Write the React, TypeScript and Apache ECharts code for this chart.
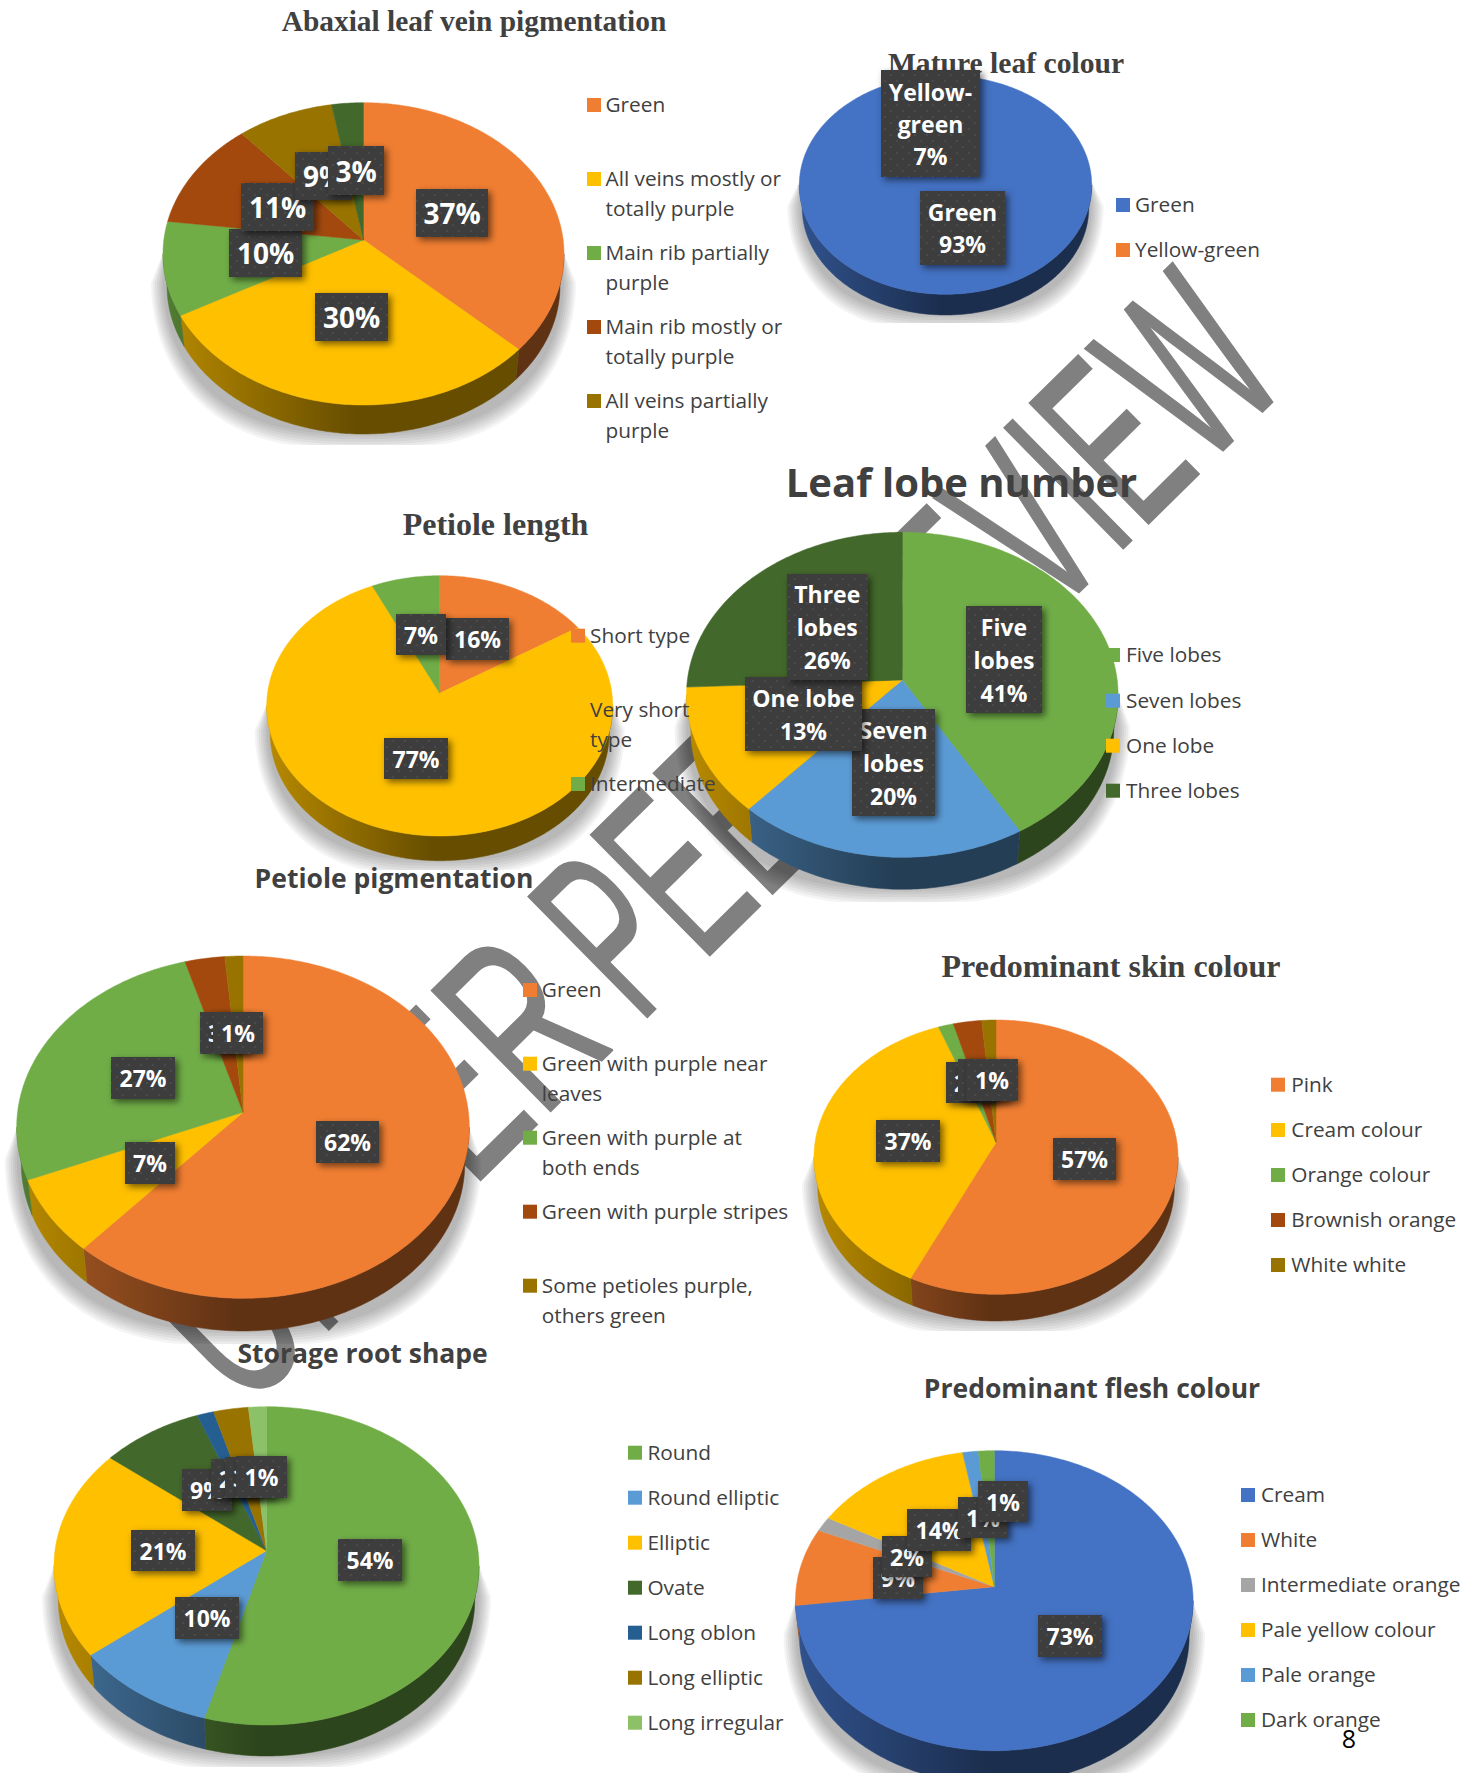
import React, { useEffect, useRef } from "react";
import * as echarts from "echarts";

// ---------- data ----------
const abaxialCategories = ["Green", "All veins mostly or\ntotally purple", "Main rib partially\npurple", "Main rib mostly or\ntotally purple", "All veins partially\npurple"];
const abaxialValues = [37, 30, 10, 11.7, 8.5, 2.8];
const abaxialLabels = ["37%", "30%", "10%", "11%", "9%", "3%"];

const matureCategories = ["Green", "Yellow-green"];
const matureValues = [93, 7];
const matureLabels = ["Green\n93%", "Yellow-\ngreen\n7%"];

const petioleLengthCategories = ["Short type", "Very short\ntype", "Intermediate"];
const petioleLengthValues = [16, 77, 7];
const petioleLengthLabels = ["16%", "77%", "7%"];

const lobeCategories = ["Five lobes", "Seven lobes", "One lobe", "Three lobes"];
const lobeValues = [41.6, 20, 12.7, 25.7];
const lobeLabels = ["Five\nlobes\n41%", "Seven\nlobes\n20%", "One lobe\n13%", "Three\nlobes\n26%"];

const pigmentCategories = ["Green", "Green with purple near\nleaves", "Green with purple at\nboth ends", "Green with purple stripes", "Some petioles purple,\nothers green"];
const pigmentValues = [61.5, 7.2, 26.8, 3.1, 1.4];
const pigmentLabels = ["62%", "7%", "27%", "3%", "1%"];

const skinCategories = ["Pink", "Cream colour", "Orange colour", "Brownish orange", "White white"];
const skinValues = [57, 37.3, 1.5, 2.8, 1.4];
const skinLabels = ["57%", "37%", "2%", "3%", "1%"];

const rootCategories = ["Round", "Round elliptic", "Elliptic", "Ovate", "Long oblon", "Long elliptic", "Long irregular"];
const rootValues = [54.3, 10, 21.4, 8.5, 1.4, 2.9, 1.5];
const rootLabels = ["54%", "10%", "21%", "9%", "2%", "3%", "1%"];

const fleshCategories = ["Cream", "White", "Intermediate orange", "Pale yellow colour", "Pale orange", "Dark orange"];
const fleshValues = [73, 8.4, 1.6, 14.2, 1.4, 1.4];
const fleshLabels = ["73%", "9%", "2%", "14%", "1%", "1%"];

// ---------- styles ----------
const ORANGE = "#F07E32";
const YELLOW = "#FFC000";
const GREEN = "#70AD47";
const BROWN = "#A3490E";
const GOLD = "#997300";
const DKGREEN = "#43682B";
const BLUE = "#4472C4";
const SKY = "#5B9BD5";
const GRAY = "#A5A5A5";
const NAVY = "#255E91";
const LIME = "#8CC168";

const SANS = "'Open Sans', sans-serif";
const SERIF = "'Liberation Serif', serif";
const TEXT = "#404040";

const dotSvg =
  "<svg xmlns='http://www.w3.org/2000/svg' width='12' height='12'><rect width='12' height='12' fill='#3e3e3e'/><circle cx='3' cy='3' r='1.1' fill='#4c4c4c'/><circle cx='9' cy='9' r='1.1' fill='#4c4c4c'/></svg>";
const dotPattern = {
  image: "data:image/svg+xml;charset=utf-8," + encodeURIComponent(dotSvg),
  repeat: "repeat",
  imageWidth: 12,
  imageHeight: 12,
};

interface Pie {
  title: string; titleX: number; titleY: number; titleSize: number; titleFont: string;
  cx: number; rx: number; top: number; pivot: number; faceBottom: number; rimBottom: number; cutoff: number;
  values: number[]; colors: string[]; labels: string[]; boxes: number[][]; labelSize: number; labelLine: number;
  categories: string[]; legendColors: string[]; legendBox: number; legendText: number; legendY: number[];
}

const pies: Pie[] = [
  {
    title: "Abaxial leaf vein pigmentation", titleX: 474, titleY: 22, titleSize: 29.4, titleFont: SERIF,
    cx: 363.5, rx: 200.5, top: 102.7, pivot: 240, faceBottom: 405, rimBottom: 434, cutoff: 445,
    values: abaxialValues, colors: [ORANGE, YELLOW, GREEN, BROWN, GOLD, DKGREEN], labels: abaxialLabels,
    boxes: [[416, 488, 189, 237], [315, 388, 293, 341], [229, 302, 229, 277], [241, 314, 183, 231], [295, 352, 152, 200], [328, 384, 146, 195]],
    labelSize: 28, labelLine: 34,
    categories: abaxialCategories, legendColors: [ORANGE, YELLOW, GREEN, BROWN, GOLD], legendBox: 587, legendText: 605.5, legendY: [105, 179, 253, 327, 401],
  },
  {
    title: "Mature leaf colour", titleX: 1006, titleY: 63, titleSize: 29.6, titleFont: SERIF,
    cx: 945.5, rx: 146.2, top: 75.7, pivot: 176, faceBottom: 294.3, rimBottom: 315, cutoff: 323,
    values: matureValues, colors: [BLUE, BLUE], labels: matureLabels,
    boxes: [[920, 1005, 191, 265], [881, 980, 70, 177]],
    labelSize: 23, labelLine: 32,
    categories: matureCategories, legendColors: [BLUE, ORANGE], legendBox: 1116, legendText: 1135, legendY: [205, 250],
  },
  {
    title: "Petiole length", titleX: 495.5, titleY: 525, titleSize: 32, titleFont: SERIF,
    cx: 439.7, rx: 173, top: 575.7, pivot: 693.3, faceBottom: 836, rimBottom: 860.7, cutoff: 870,
    values: petioleLengthValues, colors: [ORANGE, YELLOW, GREEN], labels: petioleLengthLabels,
    boxes: [[446, 509, 618, 660], [384, 448, 738, 779], [396, 446, 614, 655]],
    labelSize: 23, labelLine: 30,
    categories: petioleLengthCategories, legendColors: [ORANGE, YELLOW, GREEN], legendBox: 571, legendText: 590, legendY: [635.7, 710, 784],
  },
  {
    title: "Leaf lobe number", titleX: 961.5, titleY: 483, titleSize: 40, titleFont: SANS,
    cx: 902.3, rx: 215.8, top: 532.3, pivot: 680, faceBottom: 857.3, rimBottom: 889.3, cutoff: 902,
    values: lobeValues, colors: [GREEN, SKY, YELLOW, DKGREEN], labels: lobeLabels,
    boxes: [[966, 1042, 606, 713], [852, 935, 709, 816], [745, 862, 677, 751], [787, 867.5, 574, 680]],
    labelSize: 23, labelLine: 33,
    categories: lobeCategories, legendColors: [GREEN, SKY, YELLOW, DKGREEN], legendBox: 1106, legendText: 1126, legendY: [655, 700.7, 745.7, 790.7],
  },
  {
    title: "Petiole pigmentation", titleX: 394, titleY: 878, titleSize: 26.5, titleFont: SANS,
    cx: 243, rx: 226.3, top: 956, pivot: 1112.3, faceBottom: 1298.3, rimBottom: 1331, cutoff: 1344,
    values: pigmentValues, colors: [ORANGE, YELLOW, GREEN, BROWN, GOLD], labels: pigmentLabels,
    boxes: [[316, 379, 1121, 1163], [125, 175, 1142, 1184], [111, 175, 1057, 1099], [200, 250, 1012, 1054], [213, 263, 1012, 1054]],
    labelSize: 23, labelLine: 30,
    categories: pigmentCategories, legendColors: [ORANGE, YELLOW, GREEN, BROWN, GOLD], legendBox: 523, legendText: 541.8, legendY: [990, 1063.7, 1137.7, 1211.7, 1285.7],
  },
  {
    title: "Predominant skin colour", titleX: 1111, titleY: 966.7, titleSize: 32, titleFont: SERIF,
    cx: 996, rx: 182, top: 1020, pivot: 1142.3, faceBottom: 1294.3, rimBottom: 1321, cutoff: 1331,
    values: skinValues, colors: [ORANGE, YELLOW, GREEN, BROWN, GOLD], labels: skinLabels,
    boxes: [[1053, 1116, 1138, 1180], [876, 940, 1120, 1162], [946, 996, 1062, 1103], [958, 1008, 1059, 1101], [966, 1018, 1059, 1101]],
    labelSize: 23, labelLine: 30,
    categories: skinCategories, legendColors: [ORANGE, YELLOW, GREEN, BROWN, GOLD], legendBox: 1271, legendText: 1291.3, legendY: [1084.7, 1130, 1175, 1220, 1265],
  },
  {
    title: "Storage root shape", titleX: 362.6, titleY: 1352.7, titleSize: 26.5, titleFont: SANS,
    cx: 266.5, rx: 212.5, top: 1406.7, pivot: 1550.7, faceBottom: 1725, rimBottom: 1756, cutoff: 1767,
    values: rootValues, colors: [GREEN, SKY, YELLOW, DKGREEN, NAVY, GOLD, LIME], labels: rootLabels,
    boxes: [[338, 402, 1539, 1581], [175, 239, 1597, 1639], [131, 195, 1530, 1571], [182, 232, 1469, 1511], [211, 261, 1459, 1498], [225, 275, 1457, 1498], [236, 287, 1456, 1498]],
    labelSize: 23, labelLine: 30,
    categories: rootCategories, legendColors: [GREEN, SKY, YELLOW, DKGREEN, NAVY, GOLD, LIME], legendBox: 628, legendText: 647.4, legendY: [1452.7, 1497.7, 1542.7, 1587.7, 1632.7, 1677.7, 1722.7],
  },
  {
    title: "Predominant flesh colour", titleX: 1092, titleY: 1388, titleSize: 26.5, titleFont: SANS,
    cx: 994.3, rx: 198.8, top: 1450.7, pivot: 1586.7, faceBottom: 1750.7, rimBottom: 1784, cutoff: 1796,
    values: fleshValues, colors: [BLUE, ORANGE, GRAY, YELLOW, SKY, GREEN], labels: fleshLabels,
    boxes: [[1038, 1102, 1615, 1657], [873, 923, 1557, 1599], [882, 932, 1536, 1577], [907, 971, 1509, 1551], [958, 1008, 1497, 1538], [978, 1028, 1481, 1522]],
    labelSize: 23, labelLine: 30,
    categories: fleshCategories, legendColors: [BLUE, ORANGE, GRAY, YELLOW, SKY, GREEN], legendBox: 1241, legendText: 1261, legendY: [1495, 1540, 1585, 1630, 1675, 1720],
  },
];

function shade(hex: string, f: number) {
  const n = parseInt(hex.slice(1), 16);
  const r = Math.round(((n >> 16) & 255) * f);
  const g = Math.round(((n >> 8) & 255) * f);
  const b = Math.round((n & 255) * f);
  return `rgb(${r},${g},${b})`;
}

function geometry(p: Pie) {
  const yt = p.top - p.pivot;
  const yb = p.faceBottom - p.pivot;
  const k = (yt + yb) / (yb - yt);
  const b = -yt * (1 + k);
  const a = p.rx * Math.sqrt(1 - k * k);
  const s = 0.98;
  const drop = p.rimBottom - p.pivot - yb * s;
  const face = (t: number): number[] => {
    const u = Math.sin(t);
    const v = -Math.cos(t);
    const d = 1 - k * v;
    return [p.cx + (a * u) / d, p.pivot + (b * v) / d];
  };
  const base = (t: number): number[] => {
    const q = face(t);
    return [p.cx + (q[0] - p.cx) * s, p.pivot + (q[1] - p.pivot) * s + drop];
  };
  return { k, face, base };
}

function arc(fn: (t: number) => number[], from: number, to: number) {
  const n = Math.max(2, Math.ceil(Math.abs(to - from) / 0.015));
  const out: number[][] = [];
  for (let i = 0; i <= n; i++) out.push(fn(from + ((to - from) * i) / n));
  return out;
}

function shadowLayers(p: Pie) {
  const mid = (p.top + p.faceBottom) / 2;
  const ry = (p.faceBottom - p.top) / 2;
  const depth = p.rimBottom - p.faceBottom;
  const layers: any[] = [];
  for (let i = 0; i < 7; i++) {
    const e = 2 * i;
    const pts: number[][] = [[p.cx + p.rx * 0.99, mid - 6]];
    for (let j = 0; j <= 72; j++) {
      const f = (Math.PI * j) / 72;
      const c = Math.cos(f);
      pts.push([
        p.cx + (p.rx + e) * Math.sign(c) * Math.pow(Math.abs(c), 0.72),
        Math.min(p.cutoff, mid + depth + (ry + e * 1.3) * Math.sin(f)),
      ]);
    }
    pts.push([p.cx - p.rx * 0.99, mid - 6]);
    layers.push({
      type: "polygon", z2: 0, shape: { points: pts },
      style: { fill: "rgba(0,0,0,0.045)" },
    });
  }
  return layers;
}

function makeRenderItem(p: Pie) {
  const { k, face, base } = geometry(p);
  const total = p.values.reduce((x, y) => x + y, 0);
  const visFrom = Math.acos(-k);
  const visTo = 2 * Math.PI - visFrom;
  return (params: any, api: any) => {
    const i = params.dataIndex;
    const value = api.value(0);
    let before = 0;
    for (let j = 0; j < i; j++) before += p.values[j];
    const start = (before / total) * 2 * Math.PI;
    const end = ((before + value) / total) * 2 * Math.PI;
    const color = p.colors[i];
    const children: any[] = [];
    if (i === 0) children.push(...shadowLayers(p));

    const a0 = Math.max(start, visFrom);
    const a1 = Math.min(end, visTo);
    if (a1 > a0) {
      const sideFill = new echarts.graphic.LinearGradient(
        p.cx - p.rx, 0, p.cx + p.rx, 0,
        [
          { offset: 0, color: shade(color, 0.72) },
          { offset: 0.48, color: shade(color, 0.4) },
          { offset: 1, color: shade(color, 0.4) },
        ],
        true,
      );
      children.push({
        type: "polygon", z2: 1,
        shape: { points: [...arc(face, a0, a1), ...arc(base, a1, a0)] },
        style: { fill: sideFill, stroke: sideFill, lineWidth: 0.5 },
      });
    }
    children.push({
      type: "polygon", z2: 2,
      shape: { points: [[p.cx, p.pivot], ...arc(face, start, end)] },
      style: { fill: color, stroke: color, lineWidth: 0.5 },
    });

    const box = p.boxes[i];
    children.push({
      type: "rect", z2: 100 + 2 * i,
      shape: { x: box[0], y: box[2], width: box[1] - box[0], height: box[3] - box[2] },
      style: { fill: dotPattern, shadowBlur: 7, shadowOffsetX: 3, shadowOffsetY: 3, shadowColor: "rgba(0,0,0,0.55)" },
    });
    children.push({
      type: "text", z2: 101 + 2 * i,
      style: {
        text: p.labels[i], x: (box[0] + box[1]) / 2, y: (box[2] + box[3]) / 2,
        align: "center", verticalAlign: "middle", fill: "#FFFFFF",
        fontFamily: SANS, fontWeight: "bold", fontSize: p.labelSize, lineHeight: p.labelLine,
      },
    });
    return { type: "group", children };
  };
}

function legendElements(p: Pie) {
  const out: any[] = [];
  p.categories.forEach((name, i) => {
    const y = p.legendY[i];
    out.push({
      type: "rect", z: 50,
      shape: { x: p.legendBox, y: y - 7, width: 14, height: 14 },
      style: { fill: p.legendColors[i] },
    });
    out.push({
      type: "text", z: 51,
      style: {
        text: name, x: p.legendText, y: y - 16, align: "left", verticalAlign: "top",
        fill: TEXT, fontFamily: SANS, fontSize: 20.8, lineHeight: 30,
      },
    });
  });
  return out;
}

function watermark(text: string, x: number, y: number, scaleX: number) {
  return {
    type: "text", z: 0, x, y, rotation: (44.6 * Math.PI) / 180, scaleX,
    style: {
      text, x: 0, y: -98, align: "left", verticalAlign: "middle",
      fill: "#808080", stroke: "#808080", lineWidth: 2, lineJoin: "round",
      fontFamily: "'Liberation Sans', sans-serif", fontSize: 246,
    },
  };
}

export default function App() {
  const ref = useRef<HTMLDivElement>(null);
  useEffect(() => {
    if (!ref.current) return;
    const chart = echarts.init(ref.current, undefined, { renderer: "svg" });
    chart.setOption({
      animation: false,
      backgroundColor: "#FFFFFF",
      title: pies.map((p) => ({
        text: p.title, left: p.titleX, top: p.titleY - p.titleSize * 0.62 + 3, textAlign: "center", padding: 0, z: 1,
        textStyle: { fontFamily: p.titleFont, fontWeight: "bold", fontSize: p.titleSize, color: TEXT },
      })),
      graphic: {
        elements: [
          watermark("UNDER", 253, 1422, 0.6),
          watermark("PEER REVIEW", 648, 1034, 0.536),
          ...pies.flatMap(legendElements),
          {
            type: "text", z: 52,
            style: {
              text: "8", x: 1349, y: 1738, align: "center", verticalAlign: "middle",
              fill: "#000000", fontFamily: SANS, fontSize: 25,
            },
          },
        ],
      },
      series: pies.map((p, idx) => ({
        type: "custom",
        name: p.title,
        coordinateSystem: "none",
        silent: true,
        clip: false,
        z: 2 + idx,
        renderItem: makeRenderItem(p),
        data: p.values.map((v, i) => ({ value: [v], name: p.categories[i] ?? "Other" })),
      })),
    });
    return () => chart.dispose();
  }, []);
  return <div ref={ref} style={{ position: "absolute", left: 0, top: 0, width: 1478, height: 1773 }} />;
}
